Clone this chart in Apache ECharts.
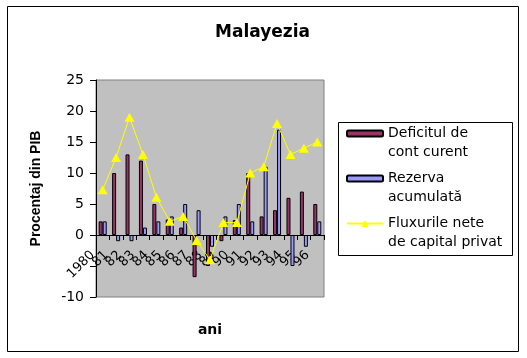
<!DOCTYPE html>
<html>
<head>
<meta charset="utf-8">
<script src="https://cdn.jsdelivr.net/npm/echarts@6/dist/echarts.min.js"></script>
<style>html,body{margin:0;padding:0;background:#fff}#c{width:527px;height:358px}</style>
</head>
<body>
<div id="c"></div>
<script>
var years = ['1980','81','82','83','84','85','86','87','88','89','90','91','92','93','94','95','96'];
var deficit = [2.2, 10, 13, 12, 5, 2.5, 1.2, -6.8, -5, -1, 2.4, 10, 3, 4, 6, 7, 5];
var reserve = [2.2, -1, -1, 1.2, 2.2, 3, 5, 4, -1.9, 3, 5, 2.2, 11, 17, -5, -1.9, 2.2];
var flows = [7.3, 12.5, 19, 13, 6.1, 2.2, 3, -0.9, -4, 2, 2, 10, 11, 18, 13, 14, 15];
var yTicks = {min: -10, max: 25, step: 5};
var names = ['Deficitul de\ncont curent', 'Rezerva\nacumulată', 'Fluxurile nete\nde capital privat'];

var chart = echarts.init(document.getElementById('c'), null, {renderer: 'canvas'});
var legText = {fontFamily: 'DejaVu Sans', fontSize: 14, color: '#000', lineHeight: 19};
function leg(name, top, h) {
  return {
    data: [name], orient: 'vertical', left: 346, top: top, padding: 0,
    itemWidth: 36, itemHeight: h, itemGap: 0, textStyle: legText, selectedMode: false,
    formatter: function (n) { return '\n' + n; }
  };
}
var gridTop = 80, gridBottom = 61, chartH = 358;
var plotH = chartH - gridTop - gridBottom;
// distance from the plot bottom up to the zero line (axis crosses at 0)
var zeroLift = plotH * (0 - yTicks.min) / (yTicks.max - yTicks.min);

chart.setOption({
  animation: false,
  backgroundColor: '#fff',
  title: {
    text: 'Malayezia', left: 210, top: 19,
    textStyle: {fontFamily: 'DejaVu Sans', fontWeight: 'bold', fontSize: 17, color: '#000'}
  },
  graphic: [
    {type: 'rect', shape: {x: 7.5, y: 6.5, width: 511, height: 345}, style: {fill: 'none', stroke: '#000', lineWidth: 1}, z: -1},
    {type: 'rect', shape: {x: 338.5, y: 122.5, width: 174, height: 133}, style: {fill: '#fff', stroke: '#000', lineWidth: 1}, z: -1}
  ],
  legend: [
    leg(names[0], 105, 6),
    leg(names[1], 150, 6),
    leg(names[2], 195, 9)
  ],
  grid: {
    left: 96, right: 203, top: gridTop, bottom: gridBottom, outerBoundsMode: 'none',
    show: true, backgroundColor: '#C0C0C0', borderColor: '#808080', borderWidth: 1
  },
  xAxis: {
    type: 'category', data: years, position: 'bottom', offset: -zeroLift,
    name: 'ani', nameLocation: 'middle', nameGap: 88,
    nameTextStyle: {fontFamily: 'DejaVu Sans', fontWeight: 'bold', fontSize: 14, color: '#000'},
    axisLine: {onZero: false, lineStyle: {color: '#000', width: 1}},
    axisTick: {show: true, length: 5, lineStyle: {color: '#000'}},
    axisLabel: {interval: 0, rotate: 45, margin: 8, padding: [0, 14, 0, 0], hideOverlap: false,
      fontFamily: 'DejaVu Sans', fontSize: 13, color: '#000'},
    splitLine: {show: false}
  },
  yAxis: {
    type: 'value', min: yTicks.min, max: yTicks.max, interval: yTicks.step,
    name: 'Procentaj din PIB', nameLocation: 'middle', nameGap: 53, nameRotate: 90,
    nameTextStyle: {fontFamily: 'Liberation Sans', fontWeight: 'bold', fontSize: 14, color: '#000'},
    axisLine: {show: true, onZero: false, lineStyle: {color: '#000', width: 1}},
    axisTick: {show: true, length: 6, lineStyle: {color: '#000'}},
    axisLabel: {margin: 12, fontFamily: 'DejaVu Sans', fontSize: 14, color: '#000',
      formatter: function (v) { return v === -5 ? '' : String(v); }},
    splitLine: {show: false}
  },
  series: [
    {name: names[0], type: 'bar', data: deficit, barWidth: 4, barGap: '0%',
      itemStyle: {color: '#993366', borderColor: '#000', borderWidth: 1}},
    {name: names[1], type: 'bar', data: reserve, barWidth: 4, barGap: '0%',
      itemStyle: {color: '#9999FF', borderColor: '#000', borderWidth: 1}},
    {name: names[2], type: 'line', data: flows, symbol: 'triangle', symbolSize: [10, 9],
      showAllSymbol: true, z: 5,
      lineStyle: {color: '#FFFF00', width: 1}, itemStyle: {color: '#FFFF00'}}
  ]
});
</script>
</body>
</html>
